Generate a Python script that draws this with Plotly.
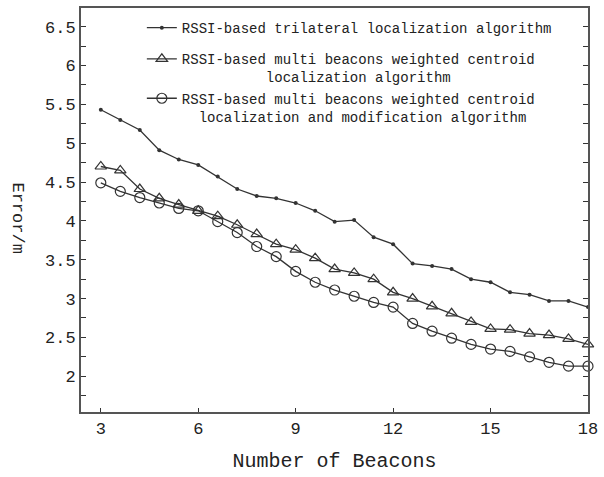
import plotly.graph_objects as go

beacons = [3.0, 3.6, 4.2, 4.8, 5.4, 6.0, 6.6, 7.2, 7.8, 8.4, 9.0, 9.6, 10.2, 10.8, 11.4,
           12.0, 12.6, 13.2, 13.8, 14.4, 15.0, 15.6, 16.2, 16.8, 17.4, 18.0]

err_trilateral = [5.43, 5.30, 5.17, 4.91, 4.79, 4.72, 4.57, 4.41, 4.32, 4.29, 4.23, 4.13, 3.99,
                  4.01, 3.79, 3.70, 3.45, 3.42, 3.38, 3.25, 3.21, 3.08, 3.05, 2.97, 2.97, 2.89]

err_centroid = [4.70, 4.65, 4.41, 4.29, 4.21, 4.13, 4.06, 3.95, 3.83, 3.70, 3.63, 3.52, 3.38,
                3.33, 3.25, 3.08, 3.00, 2.90, 2.81, 2.70, 2.61, 2.60, 2.55, 2.53, 2.48, 2.41]

err_modified = [4.49, 4.38, 4.30, 4.23, 4.16, 4.13, 3.99, 3.85, 3.67, 3.54, 3.35, 3.21, 3.11,
                3.03, 2.95, 2.89, 2.68, 2.58, 2.49, 2.41, 2.35, 2.32, 2.25, 2.18, 2.13, 2.13]

NB = "\u00a0"
name_tri = "RSSI-based trilateral localization algorithm"
name_cen = "RSSI-based multi beacons weighted centroid<br>" + NB * 10 + "localization algorithm"
name_mod = "RSSI-based multi beacons weighted centroid<br>" + NB * 2 + "localization and modification algorithm"

x_ticks = [3, 6, 9, 12, 15, 18]
y_ticks = [2, 2.5, 3, 3.5, 4, 4.5, 5, 5.5, 6, 6.5]
y_tick_text = ["2", "2.5", "3", "3.5", "4", "4.5", "5", "5.5", "6", "6.5"]

LINE = "#333333"
FONT = "Liberation Mono"

fig = go.Figure()
fig.add_trace(go.Scatter(
    x=beacons, y=err_trilateral, name=name_tri, mode="lines+markers",
    line=dict(color=LINE, width=1.3),
    marker=dict(symbol="circle", size=4, color=LINE),
    cliponaxis=False, legendgroup="a"))
fig.add_trace(go.Scatter(
    x=beacons, y=err_centroid, name=name_cen, mode="lines+markers",
    line=dict(color=LINE, width=1.3),
    marker=dict(symbol="triangle-up-open", size=10, color=LINE, line=dict(width=1.2)),
    cliponaxis=False, legendgroup="b"))
fig.add_trace(go.Scatter(
    x=beacons, y=err_modified, name=name_mod, mode="lines+markers",
    line=dict(color=LINE, width=1.3),
    marker=dict(symbol="circle-open", size=10, color=LINE, line=dict(width=1.2)),
    cliponaxis=False, legendgroup="b"))

fig.update_layout(
    width=604, height=477,
    margin=dict(l=81, r=15, t=6, b=65),
    paper_bgcolor="white", plot_bgcolor="white",
    font=dict(family=FONT, color="#222222"),
    showlegend=True,
    legend=dict(
        x=0.12, y=0.99, xanchor="left", yanchor="top",
        bgcolor="rgba(0,0,0,0)", borderwidth=0,
        font=dict(family=FONT, size=14, color="#222222"),
        valign="top", traceorder="grouped", tracegroupgap=10,
    ),
    xaxis=dict(
        range=[2.39, 18.0], tickvals=x_ticks, ticks="inside", ticklen=4,
        tickcolor="#333333", tickwidth=1.3, ticklabeloverflow="allow",
        showline=True, linecolor="#555555", linewidth=2, mirror=True,
        showgrid=False, zeroline=False,
        tickfont=dict(family=FONT, size=17, color="#222222"),
        title=dict(text="Number of Beacons", font=dict(family=FONT, size=20, color="#222222"), standoff=15),
    ),
    yaxis=dict(
        range=[1.54, 6.74], tickvals=y_ticks, ticktext=y_tick_text, ticks="inside", ticklen=5,
        tickcolor="#333333", tickwidth=1.3,
        minor=dict(dtick=0.25, tick0=0, ticks="inside", ticklen=5, tickcolor="#333333", showgrid=False),
        showline=True, linecolor="#555555", linewidth=2, mirror="ticks",
        showgrid=False, zeroline=False,
        tickfont=dict(family=FONT, size=17, color="#222222"),
    ),
    annotations=[dict(
        text="Error/m", textangle=90, xref="paper", yref="paper",
        x=-0.125, y=0.48, xanchor="center", yanchor="middle", showarrow=False,
        font=dict(family=FONT, size=17, color="#222222"),
    )],
)

fig.write_html("out.html", config={"displayModeBar": False},
               post_script="document.body.style.margin='0px';")
